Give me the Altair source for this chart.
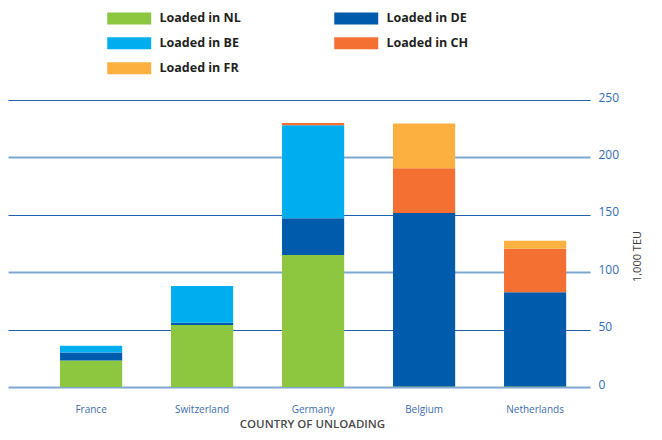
import altair as alt
import pandas as pd

countries = ["France", "Switzerland", "Germany", "Belgium", "Netherlands"]
series = ["Loaded in NL", "Loaded in DE", "Loaded in BE", "Loaded in CH", "Loaded in FR"]
colors = ["#8DC63F", "#005BAC", "#00AEEF", "#F37032", "#FBB040"]
# legend reading order (column by column)
legend_order = ["Loaded in NL", "Loaded in BE", "Loaded in FR", "Loaded in DE", "Loaded in CH"]

loaded_nl = [23, 54, 115, 0.5, 0.5]
loaded_de = [7, 2, 32, 151, 82]
loaded_be = [6, 32, 81, 0, 0]
loaded_ch = [0, 0, 2, 39, 38]
loaded_fr = [0, 0, 0, 39, 7]

y_ticks = [0, 50, 100, 150, 200, 250]

values = [loaded_nl, loaded_de, loaded_be, loaded_ch, loaded_fr]
rows = []
for k, (s, vals) in enumerate(zip(series, values)):
    for c, v in zip(countries, vals):
        rows.append({"country": c, "series": s, "value": v, "k": k})
df = pd.DataFrame(rows)

color_of = dict(zip(series, colors))
legend_colors = [color_of[s] for s in legend_order]

FONT = "Open Sans"

chart = alt.Chart(df).mark_bar().encode(
    x=alt.X(
        "country:N",
        sort=countries,
        scale=alt.Scale(paddingInner=0.44, paddingOuter=0.3416, align=0.686),
        axis=alt.Axis(
            title="COUNTRY OF UNLOADING",
            labelAngle=0,
            ticks=False,
            domain=False,
            labelPadding=17,
            labelFont=FONT,
            labelFontSize=10,
            labelColor="#3b6db0",
            titleFont=FONT,
            titleFontSize=11.5,
            titleFontWeight=600,
            titleColor="#4a4a4a",
            titleX=304,
            titleY=37.5,
            titleAlign="center",
            titleBaseline="middle",
        ),
    ),
    y=alt.Y(
        "value:Q",
        stack="zero",
        scale=alt.Scale(domain=[0, 250], nice=False),
        axis=alt.Axis(
            orient="right",
            values=y_ticks,
            title="1,000 TEU",
            ticks=False,
            domain=False,
            labelPadding=8,
            labelOffset=-3,
            labelFont=FONT,
            labelFontSize=12,
            labelColor="#2f6db5",
            gridColor={"condition": {"test": "datum.value % 100 === 0", "value": "#7ba7d1"}, "value": "#1f5faa"},
            gridWidth={"condition": {"test": "datum.value % 100 === 0", "value": 2}, "value": 1.2},
            titleFont=FONT,
            titleFontSize=11,
            titleFontWeight="normal",
            titleColor="#3c3c3c",
            titleAngle=270,
            titleX=47,
            titleY=156,
            titleAlign="center",
            titleBaseline="middle",
        ),
    ),
    color=alt.Color(
        "series:N",
        sort=legend_order,
        scale=alt.Scale(domain=legend_order, range=legend_colors),
        legend=alt.Legend(
            orient="none",
            legendX=99,
            legendY=-88,
            columns=2,
            columnPadding=93,
            rowPadding=12,
            title=None,
            symbolType="M-1,-1H6.33V1H-1Z",
            symbolSize=144,
            symbolStrokeWidth=0,
            labelOffset=40,
            labelFont=FONT,
            labelFontSize=12.5,
            labelFontWeight="bold",
            labelColor="#231f20",
            padding=0,
        ),
    ),
    order=alt.Order("k:Q", sort="ascending"),
).properties(
    width=582,
    height=287,
    autosize=alt.AutoSizeParams(type="none"),
    padding={"left": 0, "top": 92, "right": 60, "bottom": 45},
).configure_view(stroke=None).configure_axis(grid=True).configure_axisX(grid=False)

chart.save("out.html", embed_options={"renderer": "svg", "actions": False})
